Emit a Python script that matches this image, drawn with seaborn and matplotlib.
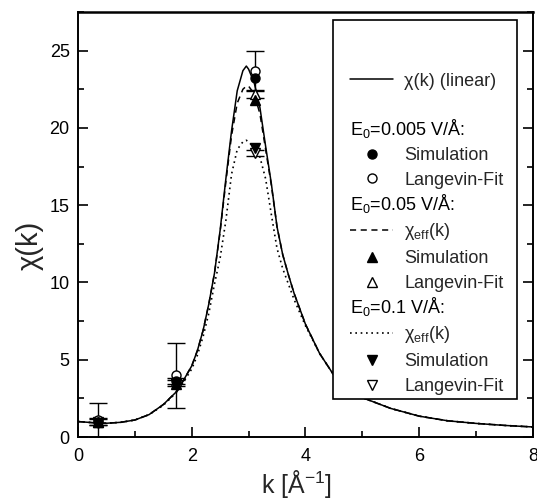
import numpy as np
import pandas as pd
import seaborn as sns
import matplotlib.pyplot as plt
from matplotlib.lines import Line2D
from matplotlib.patches import Rectangle
from matplotlib.ticker import MultipleLocator

# curves (common k grid)
k_grid = [0.0, 0.25, 0.5, 0.75, 1.0, 1.25, 1.5, 1.75, 2.0, 2.1, 2.2, 2.3, 2.4, 2.5,
          2.6, 2.7, 2.8, 2.9, 2.96, 3.0, 3.1, 3.2, 3.3, 3.4, 3.5, 3.6, 3.7, 3.8,
          4.0, 4.25, 4.5, 4.75, 5.0, 5.5, 6.0, 6.5, 7.0, 7.5, 8.0]
chi_linear = [1.0, 0.93, 0.89, 0.95, 1.1, 1.45, 2.1, 3.0, 4.6, 5.6, 6.9, 8.6, 10.6, 13.4,
              16.7, 19.8, 22.4, 23.7, 24.0, 23.8, 22.9, 21.3, 18.8, 16.4, 13.6, 11.8, 10.5, 9.3,
              7.3, 5.4, 4.0, 3.1, 2.55, 1.85, 1.35, 1.05, 0.88, 0.75, 0.65]
chi_eff_005 = [1.0, 0.93, 0.89, 0.95, 1.1, 1.45, 2.1, 3.0, 4.6, 5.6, 6.9, 8.6, 10.6, 13.3,
               16.5, 19.5, 21.6, 22.5, 22.7, 22.7, 22.2, 20.9, 18.6, 16.3, 13.6, 11.8, 10.5, 9.3,
               7.3, 5.4, 4.0, 3.1, 2.55, 1.85, 1.35, 1.05, 0.88, 0.75, 0.65]
chi_eff_01 = [1.0, 0.93, 0.89, 0.95, 1.1, 1.45, 2.05, 2.95, 4.4, 5.3, 6.5, 8.0, 9.9, 11.6,
              14.0, 17.0, 18.6, 19.1, 19.2, 19.1, 18.7, 18.1, 16.7, 14.4, 12.2, 10.9, 9.9, 8.9,
              7.2, 5.4, 4.0, 3.1, 2.55, 1.85, 1.35, 1.05, 0.88, 0.75, 0.65]

# simulation points and Langevin fits
k_pts = [0.35, 1.73, 3.12]
sim_0005 = [0.95, 3.6, 23.2]
fit_0005 = [1.1, 4.0, 23.7]
fit_0005_err = [1.1, 2.1, 1.3]
sim_005 = [0.95, 3.4, 21.8]
fit_005 = [1.0, 3.6, 22.2]
fit_005_err = [0.2, 0.2, 0.25]
sim_01 = [0.9, 3.4, 18.7]
fit_01 = [0.95, 3.5, 18.4]
fit_01_err = [0.2, 0.2, 0.2]

legend_labels = ["χ(k) (linear)", "", "E$_0$=0.005 V/Å:", "Simulation", "Langevin-Fit",
                 "E$_0$=0.05 V/Å:", "χ$_{\\rm eff}$(k)", "Simulation", "Langevin-Fit",
                 "E$_0$=0.1 V/Å:", "χ$_{\\rm eff}$(k)", "Simulation", "Langevin-Fit"]


class HeaderHandler:
    # draws the header text where the handle would be, so it starts at the left edge
    def __init__(self, text):
        self.text = text

    def legend_artist(self, legend, orig_handle, fontsize, handlebox):
        t = plt.Text(-handlebox.xdescent, handlebox.height / 2 - handlebox.ydescent,
                     self.text, fontsize=fontsize, va="center", ha="left", color="black")
        handlebox.add_artist(t)
        return t


sns.set_theme(style="ticks")
plt.rcParams['font.family'] = ['Liberation Sans', 'DejaVu Sans']
plt.rcParams['mathtext.fontset'] = 'custom'
plt.rcParams['mathtext.rm'] = 'Liberation Sans'
plt.rcParams['mathtext.it'] = 'Liberation Sans:italic'

fig = plt.figure(figsize=(5.37, 5.03), dpi=100)
ax = fig.add_axes([0.1453, 0.1312, 0.847, 0.845])

df = pd.DataFrame({"k": k_grid, "lin": chi_linear, "e005": chi_eff_005, "e01": chi_eff_01})
sns.lineplot(data=df, x="k", y="lin", color="black", lw=1.1, ax=ax)
sns.lineplot(data=df, x="k", y="e005", color="black", lw=1.1, ls=(0, (4, 3)), ax=ax)
sns.lineplot(data=df, x="k", y="e01", color="black", lw=1.2, ls=(0, (1, 2.2)), ax=ax)

eb = dict(color="black", ecolor="black", elinewidth=1.0, capsize=6.5, capthick=1.0,
          ls="none", ms=6.5, mfc="white", mec="black", mew=1.0, zorder=4)
ax.errorbar(k_pts, fit_005, yerr=fit_005_err, fmt="^", **eb)
ax.errorbar(k_pts, fit_01, yerr=fit_01_err, fmt="v", **eb)
ax.errorbar(k_pts, fit_0005, yerr=fit_0005_err, fmt="o", **eb)
ax.plot(k_pts, sim_005, "^", color="black", ms=6.5, ls="none", zorder=5)
ax.plot(k_pts, sim_01, "v", color="black", ms=6.5, ls="none", zorder=5)
ax.plot(k_pts, sim_0005, "o", color="black", ms=6.5, ls="none", zorder=5)

ax.set_xlim(0, 8)
ax.set_ylim(0, 27.5)
ax.set_xticks([0, 2, 4, 6, 8])
ax.set_yticks([0, 5, 10, 15, 20, 25])
ax.xaxis.set_minor_locator(MultipleLocator(1))
ax.yaxis.set_minor_locator(MultipleLocator(2.5))
ax.tick_params(which="both", direction="in", right=True, top=False, width=1.2,
               labelsize=13, colors="black")
ax.tick_params(axis="x", pad=8)
ax.tick_params(axis="y", pad=6)
ax.tick_params(which="major", length=7)
ax.tick_params(which="minor", length=4)
for s in ax.spines.values():
    s.set_linewidth(1.4)
    s.set_color("black")
ax.spines["top"].set_linewidth(1.8)

ax.set_xlabel("k [Å$^{-1}$]", fontsize=18)
ax.xaxis.set_label_coords(0.48, -0.072)
ax.set_ylabel("χ(k)", fontsize=21)
ax.yaxis.set_label_coords(-0.075, 0.452)

# legend: frame drawn as a patch, entries in a frameless legend on top
ax.add_patch(Rectangle((0.56, 0.089), 0.405, 0.892, transform=ax.transAxes,
                       facecolor="white", edgecolor="black", lw=1.2, zorder=6))

mk = dict(ls="none", color="black", ms=6.5)
handles = [
    Line2D([], [], color="black", lw=1.1),
    Line2D([], [], ls="none"),
    "hdr0",
    Line2D([], [], marker="o", **mk),
    Line2D([], [], marker="o", mfc="white", mec="black", **mk),
    "hdr1",
    Line2D([], [], color="black", lw=1.1, ls=(0, (4, 3))),
    Line2D([], [], marker="^", **mk),
    Line2D([], [], marker="^", mfc="white", mec="black", **mk),
    "hdr2",
    Line2D([], [], color="black", lw=1.2, ls=(0, (1, 2.2))),
    Line2D([], [], marker="v", **mk),
    Line2D([], [], marker="v", mfc="white", mec="black", **mk),
]
hmap = {}
labels = []
for i, (h, lab) in enumerate(zip(handles, legend_labels)):
    if isinstance(h, str):
        h = Line2D([], [], ls="none")
        handles[i] = h
        hmap[h] = HeaderHandler(lab)
        labels.append(" ")
    else:
        labels.append(lab if lab else " ")

leg = ax.legend(handles, labels, handler_map=hmap, loc="upper left",
                bbox_to_anchor=(0.598, 0.857), borderaxespad=0, borderpad=0,
                fontsize=13, handlelength=2.4, handletextpad=0.6, labelspacing=0.43,
                frameon=False)
leg.set_zorder(7)

fig.savefig("out.png", dpi=100)
